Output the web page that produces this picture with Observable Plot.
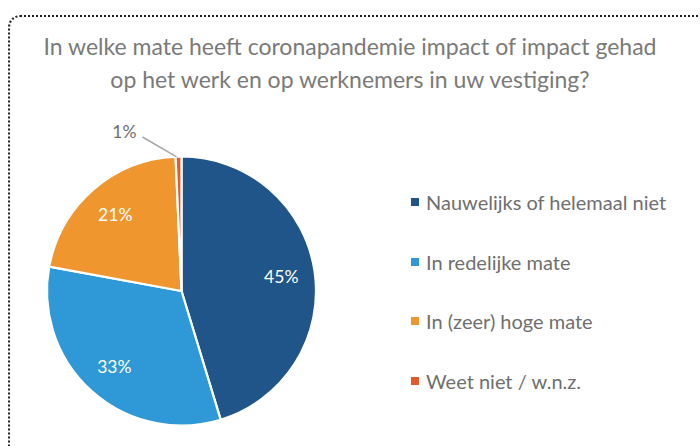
<!DOCTYPE html>
<html>
<head>
<meta charset="utf-8">
<script src="https://cdn.jsdelivr.net/npm/d3@7"></script>
<script src="https://cdn.jsdelivr.net/npm/@observablehq/plot@0.6"></script>
<style>
  html, body { margin: 0; padding: 0; background: #fff; }
  #wrap { position: relative; width: 700px; height: 446px; overflow: hidden; font-family: Lato, "Open Sans", sans-serif; }
  #frame { position: absolute; left: 8px; top: 15px; width: 800px; height: 600px; border: 2px dotted #222; border-radius: 12px; }
  #title { position: absolute; left: 0; width: 700px; top: 30px; text-align: center; color: #7a7a7a; font-size: 23px; line-height: 33px; }
  #chart { position: absolute; left: 0; top: 0; }
  #legend { position: absolute; left: 411px; top: 189px; }
  .item { display: flex; align-items: center; height: 26px; margin-bottom: 33.5px; color: #6f6f6f; font-size: 20px; }
  .sw { width: 8px; height: 8px; margin-right: 7px; }
</style>
</head>
<body>
<div id="wrap">
  <div id="frame"></div>
  <div id="chart"></div>
  <div id="title"></div>
  <div id="legend"></div>
</div>
<script>
const titleLines = ["In welke mate heeft coronapandemie impact of impact gehad", "op het werk en op werknemers in uw vestiging?"];
const categories = ["Nauwelijks of helemaal niet", "In redelijke mate", "In (zeer) hoge mate", "Weet niet / w.n.z."];
const values = [45.3, 32.6, 21.4, 0.7];
const labels = ["45%", "33%", "21%", "1%"];
const colors = ["#1f5588", "#2e99d6", "#f0962e", "#e35a2c"];

const data = categories.map((c, i) => ({category: c, value: values[i], label: labels[i]}));

function pieMark(index, scales, values_, dimensions) {
  const cx = scales.x(0), cy = scales.y(0);
  const r = scales.x(1) - scales.x(0);
  const pie = d3.pie().value(d => d.value).sort(null)(data);
  const arc = d3.arc().innerRadius(0).outerRadius(r);
  const labelArc = d3.arc().innerRadius(r * 0.5).outerRadius(r);
  const g = d3.create("svg:g").attr("transform", `translate(${cx},${cy})`);
  g.selectAll("path.slice").data(pie).join("path")
    .attr("class", "slice")
    .attr("d", arc)
    .attr("fill", d => scales.color(d.data.category))
    .attr("stroke", "#fff")
    .attr("stroke-width", 2.2)
    .attr("stroke-linejoin", "round");
  pie.forEach(d => {
    const mid = (d.startAngle + d.endAngle) / 2;
    if (d.endAngle - d.startAngle > 0.2) {
      const [lx, ly] = labelArc.centroid(d);
      g.append("text").attr("x", lx).attr("y", ly)
        .attr("text-anchor", "middle").attr("dominant-baseline", "central")
        .attr("fill", "#fff").attr("font-size", 17.5).attr("font-family", "Lato, sans-serif")
        .text(d.data.label);
    } else {
      const p1 = [Math.sin(mid) * r * 0.99, -Math.cos(mid) * r * 0.99];
      const p2 = [-r * 0.29, -r * 1.145];
      g.append("line").attr("x1", p1[0] - 2).attr("y1", p1[1] - 1).attr("x2", p2[0]).attr("y2", p2[1])
        .attr("stroke", "#a6a6a6").attr("stroke-width", 1.5);
      g.append("text").attr("x", p2[0] - 6).attr("y", p2[1] - 6)
        .attr("text-anchor", "end").attr("dominant-baseline", "central")
        .attr("fill", "#6f6f6f").attr("font-size", 17.5).attr("font-family", "Lato, sans-serif")
        .text(d.data.label);
    }
  });
  return g.node();
}

const chart = Plot.plot({
  width: 700,
  height: 446,
  margin: 0,
  x: {type: "linear", domain: [-1, 1], range: [47, 316], axis: null},
  y: {type: "linear", domain: [-1, 1], range: [425, 157], axis: null},
  color: {type: "ordinal", domain: categories, range: colors},
  style: {background: "transparent", overflow: "visible"},
  marks: [
    Plot.dot(data, {x: 0, y: 0, r: 0, fill: "category"}),
    pieMark
  ]
});
document.getElementById("chart").appendChild(chart);

document.getElementById("title").innerHTML = titleLines.map(t => `<div>${t}</div>`).join("");
const legend = document.getElementById("legend");
categories.forEach((c, i) => {
  const item = document.createElement("div");
  item.className = "item";
  item.innerHTML = `<div class="sw" style="background:${colors[i]}"></div><span>${c}</span>`;
  legend.appendChild(item);
});
</script>
</body>
</html>
